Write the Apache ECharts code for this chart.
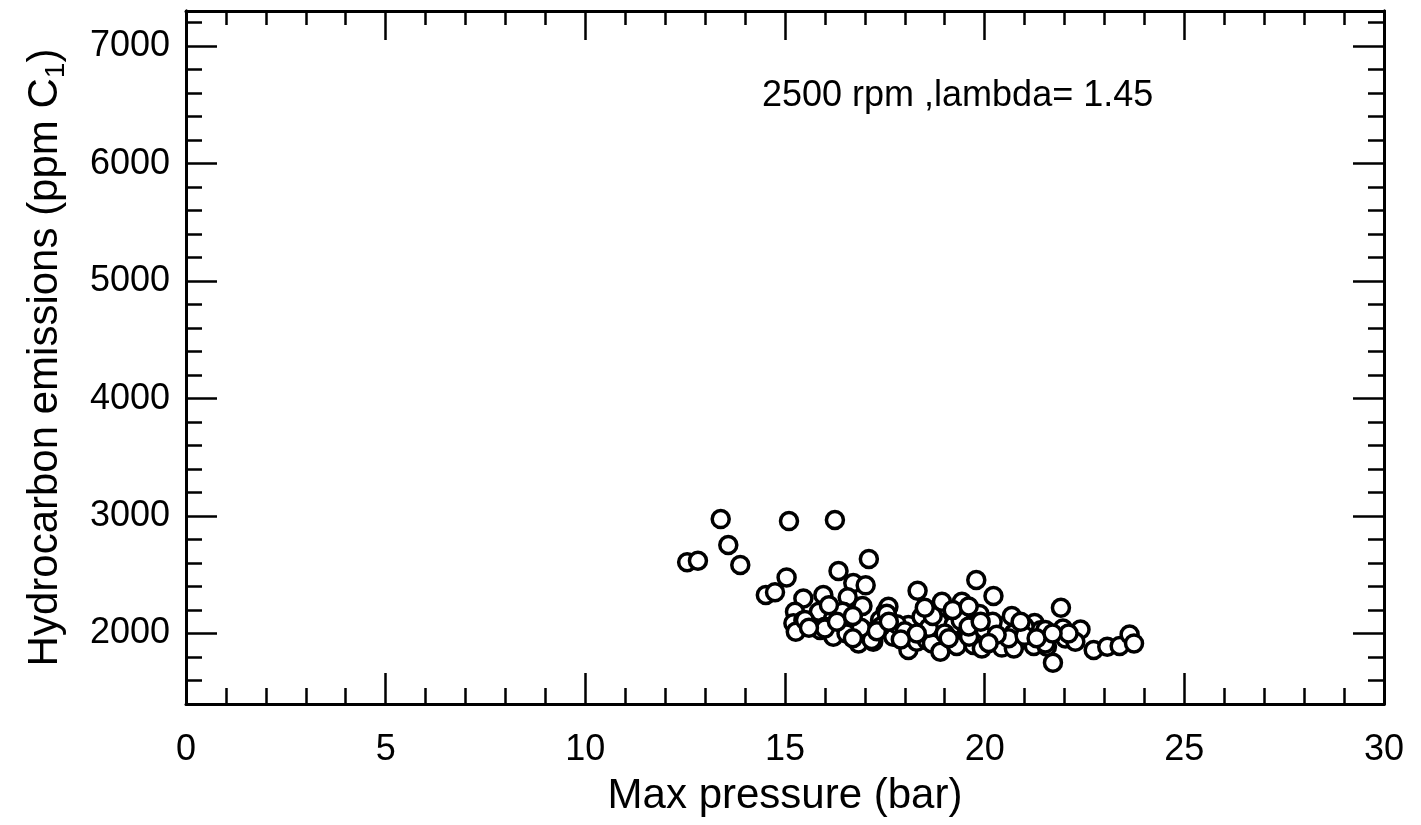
<!DOCTYPE html>
<html>
<head>
<meta charset="utf-8">
<script src="https://cdn.jsdelivr.net/npm/echarts@6/dist/echarts.min.js"></script>
<style>
html,body{margin:0;padding:0;background:#fff;}
#chart{width:1421px;height:825px;}
</style>
</head>
<body>
<div id="chart"></div>
<script>
// Max pressure (bar)
const pressure = [
  12.55, 12.82, 13.39, 13.58, 13.88, 14.52, 14.75, 15.04, 15.10, 16.25,
  16.34, 17.10, 16.71, 17.02, 19.79, 20.22, 18.32, 21.91, 21.71,
  15.46, 15.96, 16.57, 16.94, 15.25, 15.85, 16.46, 16.21, 15.21, 15.46,
  15.27, 15.88, 16.00, 16.21, 16.63, 16.54, 17.09, 16.84, 17.21, 17.52,
  17.59, 17.67, 18.09, 18.09, 18.30, 17.17, 17.71, 17.38, 18.42, 18.93,
  19.43, 19.87, 20.48, 20.68, 21.25, 21.40, 18.84, 19.22, 19.56, 18.55,
  18.84, 19.30, 19.72, 19.97, 20.43, 20.89, 21.23, 20.72, 18.68, 18.89,
  19.61, 19.93, 20.73, 21.56, 21.96, 22.40, 22.02, 22.27, 22.73, 23.07,
  23.38, 23.63, 23.74, 21.52, 21.52, 16.00, 15.50, 16.44, 17.55,
  16.30, 16.90, 17.40, 17.80, 18.00, 18.60, 19.00, 19.40, 19.60, 20.00,
  20.20, 20.60, 21.00, 21.00, 20.30, 19.10, 18.30, 17.90, 15.60, 16.70,
  17.30, 18.70, 19.90, 20.10, 21.30, 17.60, 16.10, 16.70, 19.20, 20.90,
  18.50, 19.60, 22.10, 21.70
];
// Hydrocarbon emissions (ppm C1)
const hc = [
  2606, 2620, 2974, 2753, 2583, 2328, 2351, 2478, 2957, 2966,
  2532, 2634, 2430, 2410, 2455, 2319, 2364, 2219, 1751,
  2299, 2328, 2308, 2234, 2185, 2185, 2185, 2129, 2087, 2110,
  2015, 2030, 2058, 1973, 2087, 2001, 2015, 1916, 1930, 2185,
  2228, 2001, 2072, 1860, 1930, 1945, 1973, 2115, 2143, 2271,
  2271, 2166, 2064, 2150, 2090, 2027, 2100, 2072, 2001, 1945,
  1916, 1894, 1902, 1973, 1880, 1945, 1894, 2001, 1916, 1845,
  1973, 1872, 1872, 1888, 2043, 2034, 1958, 1930, 1860, 1888,
  1894, 1992, 1916, 2030, 1916, 2043, 2115, 2185, 2169,
  2100, 2050, 2060, 2080, 2020, 2050, 2000, 2110, 2060, 2030,
  2100, 1960, 2060, 1980, 1990, 1960, 2000, 1950, 2050, 1960,
  2020, 2150, 2100, 1920, 1960, 2100, 2240, 2150, 2200, 2100,
  2220, 2230, 2000, 2000
];
const yMajorTicks = [2000, 3000, 4000, 5000, 6000, 7000];
const yMinorTicks = [1600, 1800, 2200, 2400, 2600, 2800, 3200, 3400, 3600, 3800,
  4200, 4400, 4600, 4800, 5200, 5400, 5600, 5800, 6200, 6400, 6600, 6800, 7200];
const annotation = '2500 rpm ,lambda= 1.45';

const FONT = 'Liberation Sans';
const points = pressure.map((p, i) => [p, hc[i]]);
const lineStyle = { color: '#000', width: 3 };
const tickStyle = { color: '#000', width: 2.5 };

function yAxisDef(pos, ticks, len, showLabel, name) {
  return {
    type: 'value', position: pos, min: 1400, max: 7300,
    axisLine: { show: true, lineStyle: lineStyle },
    axisTick: { show: true, inside: true, length: len, customValues: ticks, lineStyle: tickStyle },
    axisLabel: showLabel ? {
      show: true, customValues: yMajorTicks, fontFamily: FONT, fontSize: 36, color: '#000', margin: 16,
      formatter: (v) => String(v)
    } : { show: false },
    splitLine: { show: false },
    name: name || '',
    nameLocation: 'middle',
    nameGap: 116,
    nameRotate: 90,
    nameTextStyle: {
      fontFamily: FONT, fontSize: 42, color: '#000',
      rich: { sub: { fontFamily: FONT, fontSize: 28, color: '#000', padding: [22, 0, 0, 0] } }
    }
  };
}

const chart = echarts.init(document.getElementById('chart'), null, { renderer: 'canvas' });
chart.setOption({
  backgroundColor: '#fff',
  animation: false,
  grid: { left: 186, right: 37, top: 11, bottom: 121, containLabel: false },
  xAxis: [
    {
      type: 'value', position: 'bottom', min: 0, max: 30, interval: 5,
      axisLine: { show: true, lineStyle: lineStyle },
      axisTick: { show: true, inside: true, length: 31, lineStyle: tickStyle },
      minorTick: { show: true, splitNumber: 5, length: 16, lineStyle: tickStyle },
      axisLabel: { fontFamily: FONT, fontSize: 36, color: '#000', margin: 28 },
      splitLine: { show: false },
      name: 'Max pressure (bar)', nameLocation: 'middle', nameGap: 71,
      nameTextStyle: { fontFamily: FONT, fontSize: 42, color: '#000' }
    },
    {
      type: 'value', position: 'top', min: 0, max: 30, interval: 5,
      axisLine: { show: true, lineStyle: lineStyle },
      axisTick: { show: true, inside: true, length: 29, lineStyle: tickStyle },
      minorTick: { show: true, splitNumber: 5, length: 14, lineStyle: tickStyle },
      axisLabel: { show: false },
      splitLine: { show: false }
    }
  ],
  yAxis: [
    yAxisDef('left', yMajorTicks, 31, true, 'Hydrocarbon emissions (ppm C{sub|1})'),
    yAxisDef('left', yMinorTicks, 16, false),
    yAxisDef('right', yMajorTicks, 31, false),
    yAxisDef('right', yMinorTicks, 16, false)
  ],
  graphic: [{
    type: 'text', left: 762, top: 78,
    style: { text: annotation, fontFamily: FONT, fontSize: 36, fill: '#000' }
  }],
  series: [{
    type: 'scatter', xAxisIndex: 0, yAxisIndex: 0,
    data: points, symbol: 'circle', symbolSize: 17,
    itemStyle: { color: '#fff', borderColor: '#000', borderWidth: 3.5, opacity: 1 }
  }]
});
</script>
</body>
</html>
